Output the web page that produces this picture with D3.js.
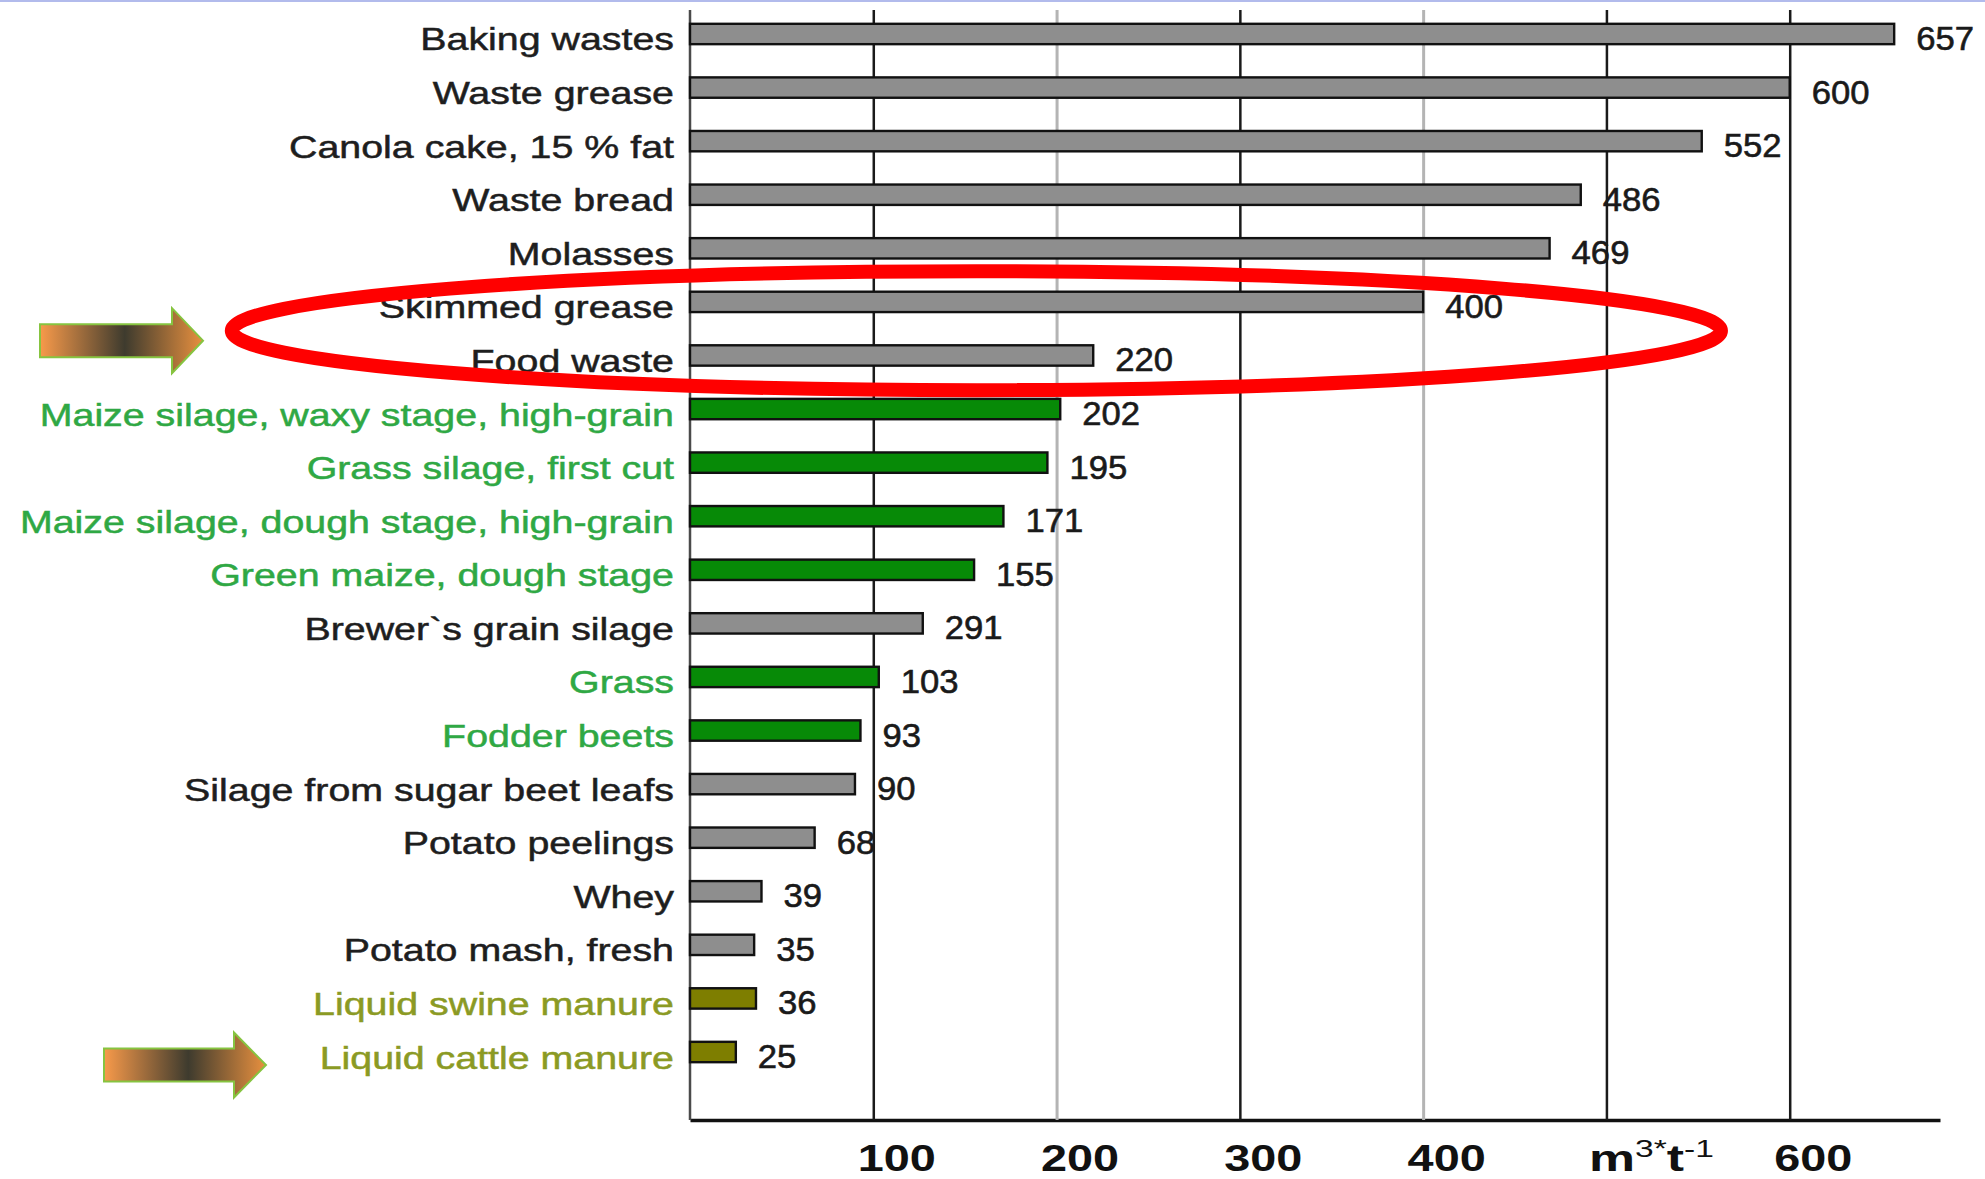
<!DOCTYPE html>
<html>
<head>
<meta charset="utf-8">
<script src="https://cdn.jsdelivr.net/npm/d3@7"></script>
<style>
  body { margin: 0; background: #fff; }
  svg { display: block; font-family: "Liberation Sans", Arial, sans-serif; }
</style>
</head>
<body>
<svg width="1985" height="1179"></svg>
<script>
const categories = [
  "Baking wastes", "Waste grease", "Canola cake, 15 % fat", "Waste bread", "Molasses",
  "Skimmed grease", "Food waste", "Maize silage, waxy stage, high-grain",
  "Grass silage, first cut", "Maize silage, dough stage, high-grain",
  "Green maize, dough stage", "Brewer`s grain silage", "Grass", "Fodder beets",
  "Silage from sugar beet leafs", "Potato peelings", "Whey", "Potato mash, fresh",
  "Liquid swine manure", "Liquid cattle manure"
];
// bar lengths as drawn (Brewer`s grain bar is shorter than its printed label)
const barValues = [657, 600, 552, 486, 469, 400, 220, 202, 195, 171, 155, 127, 103, 93, 90, 68, 39, 35, 36, 25];
const valueLabels = ["657", "600", "552", "486", "469", "400", "220", "202", "195", "171", "155", "291", "103", "93", "90", "68", "39", "35", "36", "25"];
const groups = [
  "waste", "waste", "waste", "waste", "waste", "waste", "waste",
  "crop", "crop", "crop", "crop", "waste", "crop", "crop",
  "waste", "waste", "waste", "waste", "manure", "manure"
];
const tickValues = [100, 200, 300, 400, 500, 600];
const unitTick = 500;

const fillColor = { waste: "#8e8e8e", crop: "#078a07", manure: "#7e7e00" };
const textColor = { waste: "#1e1e1e", crop: "#2fa844", manure: "#8b9a24" };

const svg = d3.select("svg");
const data = categories.map((c, i) => ({ name: c, value: barValues[i], label: valueLabels[i], group: groups[i] }));

const plotLeft = 690, plotRight = 1940, plotTop = 10, plotBottom = 1120;

const x = d3.scaleLinear().domain([0, 682]).range([plotLeft, plotRight]);
const y = d3.scaleBand().domain(categories).range([7.2, 1078.8]).paddingInner(0.62).paddingOuter(0.31);
const yc = d => y(d) + y.bandwidth() / 2;

// thin frame line at the top of the slide
svg.append("rect").attr("x", 0).attr("y", 0).attr("width", 1985).attr("height", 2).attr("fill", "#b2bbec");

// gridlines + bottom axis
const xAxis = svg.append("g")
    .attr("transform", `translate(0,${plotBottom})`)
    .call(d3.axisBottom(x)
      .tickValues(tickValues)
      .tickSize(-(plotBottom - plotTop))
      .tickSizeOuter(0)
      .tickFormat(d => d === unitTick ? "" : d));

xAxis.select(".domain").attr("stroke", "#111").attr("stroke-width", 3.5);
xAxis.selectAll(".tick line")
    .attr("stroke", d => (d === 200 || d === 400) ? "#b4b4b4" : "#1a1a1a")
    .attr("stroke-width", d => (d === 200 || d === 400) ? 3 : 2.5);
xAxis.selectAll(".tick text")
    .attr("y", 0).attr("dy", 0)
    .attr("transform", "translate(23,51) scale(1.3,1)")
    .attr("fill", "#111")
    .style("font-size", "36px")
    .style("font-weight", "bold");

// unit label sitting where the 500 tick label would be
const unit = svg.append("text")
    .attr("transform", `translate(${x(unitTick) + 45},${plotBottom + 51}) scale(1.4,1)`)
    .attr("text-anchor", "middle")
    .attr("fill", "#111")
    .style("font-size", "37px")
    .style("font-weight", "bold");
unit.append("tspan").text("m");
unit.append("tspan").attr("dy", -14).style("font-size", "24px").style("font-weight", "normal").text("3*");
unit.append("tspan").attr("dy", 14).text("t");
unit.append("tspan").attr("dy", -14).style("font-size", "24px").style("font-weight", "normal").text("-1");

// left axis line
svg.append("line")
    .attr("x1", plotLeft).attr("x2", plotLeft)
    .attr("y1", plotTop).attr("y2", plotBottom)
    .attr("stroke", "#4a4a4a").attr("stroke-width", 2.5);

// bars
svg.append("g").selectAll("rect")
    .data(data)
    .enter().append("rect")
      .attr("x", x(0))
      .attr("y", d => y(d.name))
      .attr("width", d => x(d.value) - x(0))
      .attr("height", y.bandwidth())
      .attr("fill", d => fillColor[d.group])
      .attr("stroke", "#111")
      .attr("stroke-width", 2.4);

// value labels
svg.append("g").selectAll("text")
    .data(data)
    .enter().append("text")
      .attr("transform", d => `translate(${x(d.value) + 22},${yc(d.name) + 16}) scale(1.05,1)`)
      .attr("fill", "#1a1a1a")
      .attr("stroke", "#1a1a1a")
      .attr("stroke-width", 0.6)
      .style("font-size", "33px")
      .text(d => d.label);

// category labels
const yAxis = svg.append("g")
    .attr("transform", `translate(${plotLeft},0)`)
    .call(d3.axisLeft(y).tickSize(0));
yAxis.select(".domain").remove();
yAxis.selectAll(".tick text")
    .attr("x", 0).attr("dy", 0)
    .attr("transform", "translate(-16,16.5) scale(1.23,1)")
    .attr("fill", (d, i) => textColor[groups[i]])
    .attr("stroke", (d, i) => textColor[groups[i]])
    .attr("stroke-width", 0.5)
    .style("font-size", "32px");

// red ellipse around the food waste rows
const midY = (yc("Skimmed grease") + yc("Food waste")) / 2 + 2;
svg.append("ellipse")
    .attr("cx", (x(-250) + x(562.5)) / 2)
    .attr("cy", midY)
    .attr("rx", (x(562.5) - x(-250)) / 2)
    .attr("ry", 59.5)
    .attr("fill", "none")
    .attr("stroke", "#ff0000")
    .attr("stroke-width", 14);

// block arrows
const grad = svg.append("defs").append("linearGradient").attr("id", "arrowGrad");
grad.append("stop").attr("offset", "0%").attr("stop-color", "#f89a4a");
grad.append("stop").attr("offset", "52%").attr("stop-color", "#3e3b2e");
grad.append("stop").attr("offset", "100%").attr("stop-color", "#e8903f");

const arrows = [
  { x0: 40, xh: 172, tip: 203, cy: midY + 10 },
  { x0: 104, xh: 234, tip: 266, cy: yc("Liquid cattle manure") + 13 }
];
svg.append("g").selectAll("path")
    .data(arrows)
    .enter().append("path")
      .attr("d", a => {
        const p = d3.path();
        p.moveTo(a.x0, a.cy - 16.5);
        p.lineTo(a.xh, a.cy - 16.5);
        p.lineTo(a.xh, a.cy - 32.5);
        p.lineTo(a.tip, a.cy);
        p.lineTo(a.xh, a.cy + 32.5);
        p.lineTo(a.xh, a.cy + 16.5);
        p.lineTo(a.x0, a.cy + 16.5);
        p.closePath();
        return p.toString();
      })
      .attr("fill", "url(#arrowGrad)")
      .attr("stroke", "#86c440")
      .attr("stroke-width", 2);
</script>
</body>
</html>
